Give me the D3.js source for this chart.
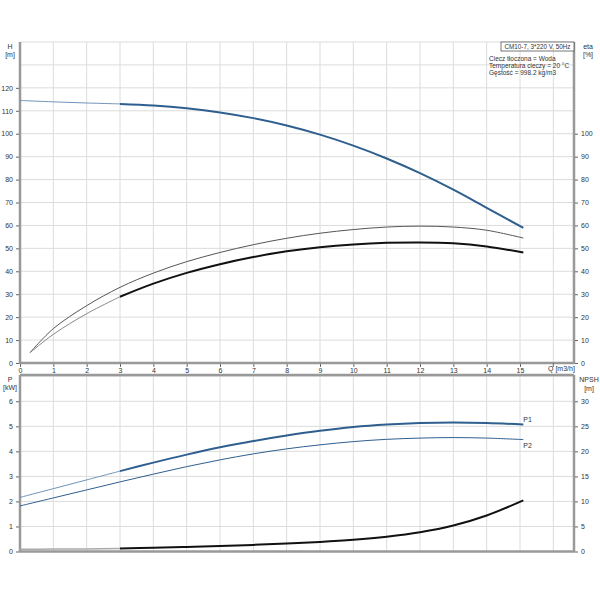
<!DOCTYPE html>
<html>
<head>
<meta charset="utf-8">
<script src="https://cdn.jsdelivr.net/npm/d3@7"></script>
<style>
  body { margin: 0; background: #fff; }
  text { font-family: "Liberation Sans", Arial, sans-serif; fill: #333; }
</style>
</head>
<body>
<div id="chart"></div>
<script>
// flow points, m3/h
const qPts = [0, 1, 2, 3, 4, 5, 6, 7, 8, 9, 10, 11, 12, 13, 14, 15.1];
const qEta = [0.3, 1, 2, 3, 4, 5, 6, 7, 8, 9, 10, 11, 12, 13, 14, 15.1];
// head, m
const headVals = [114.5, 113.9, 113.4, 113.0, 112.3, 111.1, 109.3, 106.8, 103.6, 99.6, 94.8, 89.2, 82.8, 75.6, 67.7, 58.9];
// efficiencies, %
const etaUpper = [4.5, 15, 25, 33, 39.2, 44.2, 48.2, 51.6, 54.4, 56.6, 58.2, 59.3, 59.7, 59.3, 57.9, 54.5];
const etaLower = [4.5, 12.5, 21.5, 28.9, 34.6, 39.3, 43.1, 46.2, 48.7, 50.5, 51.7, 52.4, 52.6, 52.2, 50.8, 48.2];
// power, kW
const p1Vals = [2.16, 2.51, 2.86, 3.21, 3.55, 3.87, 4.16, 4.41, 4.63, 4.82, 4.97, 5.07, 5.13, 5.15, 5.13, 5.07];
const p2Vals = [1.82, 2.14, 2.46, 2.78, 3.09, 3.39, 3.66, 3.90, 4.10, 4.26, 4.39, 4.48, 4.53, 4.55, 4.53, 4.47];
// NPSH, m
const npshVals = [0.45, 0.48, 0.52, 0.6, 0.75, 0.92, 1.1, 1.32, 1.58, 1.9, 2.33, 2.95, 3.85, 5.2, 7.2, 10.2];

const qTicks = d3.range(0, 16);
const hTicks = d3.range(0, 130, 10);
const etaTicks = d3.range(0, 110, 10);
const pTicks = d3.range(0, 7);
const npshTicks = d3.range(0, 35, 5);

const infoLines = ["Ciecz tłoczona = Woda", "Temperatura cieczy = 20 °C", "Gęstość = 998.2 kg/m3"];
const titleText = "CM10-7, 3*220 V, 50Hz";

const width = 600, height = 600;
const left = 20, right = 574;
const top1 = 42, bot1 = 363;
const top2 = 375, bot2 = 551.5;

const blue = "#2f5f8f";
const gridColor = "#dcdcdc";
const axisColor = "#999";

const svg = d3.select("#chart").append("svg")
    .attr("width", width)
    .attr("height", height);

const x = d3.scaleLinear().domain([0, 16.62]).range([left, right]);
const yH = d3.scaleLinear().domain([0, 140]).range([bot1, top1]);
const yP = d3.scaleLinear().domain([0, 7.05]).range([bot2, top2]);
const yN = d3.scaleLinear().domain([0, 35.25]).range([bot2, top2]);

// grids
function grid(yScale, yGrid, y0, y1) {
    const g = svg.append("g").attr("stroke", gridColor).attr("stroke-width", 1);
    g.selectAll(".v").data(d3.range(1, 17)).enter().append("line")
        .attr("x1", d => x(d)).attr("x2", d => x(d))
        .attr("y1", y0).attr("y2", y1);
    g.selectAll(".h").data(yGrid).enter().append("line")
        .attr("x1", left).attr("x2", right)
        .attr("y1", d => yScale(d)).attr("y2", d => yScale(d));
}
grid(yH, d3.range(10, 150, 10), top1, bot1);
grid(yP, d3.range(1, 8), top2, bot2);

// axes
function axisLine(x1, y1, x2, y2) {
    svg.append("line").attr("x1", x1).attr("y1", y1).attr("x2", x2).attr("y2", y2)
        .attr("stroke", axisColor).attr("stroke-width", 2.5);
}
axisLine(left, top1, left, bot1 + 1);
axisLine(right, top1, right, bot1 + 1);
axisLine(left, bot1, right, bot1);
axisLine(left, top2, left, bot2 + 1);
axisLine(right, top2, right, bot2 + 1);
axisLine(left, bot2, right, bot2);
axisLine(left, top2, right, top2);

function styleAxis(g) {
    g.select(".domain").remove();
    g.selectAll(".tick line").attr("stroke", "#666");
    g.selectAll(".tick text").attr("font-size", 7).attr("fill", "#444")
        .style("font-family", "'Liberation Sans', Arial, sans-serif");
}

svg.append("g").attr("transform", `translate(${left - 1},0)`)
    .call(d3.axisLeft(yH).tickValues(hTicks).tickFormat(d3.format("d")).tickSize(3).tickPadding(3))
    .call(styleAxis);
svg.append("g").attr("transform", `translate(${right + 1},0)`)
    .call(d3.axisRight(yH).tickValues(etaTicks).tickFormat(d3.format("d")).tickSize(3).tickPadding(3))
    .call(styleAxis);
svg.append("g").attr("transform", `translate(0,${bot1 + 1})`)
    .call(d3.axisBottom(x).tickValues(qTicks).tickFormat(d3.format("d")).tickSize(3).tickPadding(1))
    .call(styleAxis);
svg.append("g").attr("transform", `translate(${left - 1},0)`)
    .call(d3.axisLeft(yP).tickValues(pTicks).tickFormat(d3.format("d")).tickSize(3).tickPadding(3))
    .call(styleAxis);
svg.append("g").attr("transform", `translate(${right + 1},0)`)
    .call(d3.axisRight(yN).tickValues(npshTicks).tickFormat(d3.format("d")).tickSize(3).tickPadding(3))
    .call(styleAxis);
svg.append("line").attr("x1", x(16)).attr("x2", x(16)).attr("y1", bot1).attr("y2", bot1 + 4)
    .attr("stroke", "#666");

// unit labels
function label(txt, tx, ty, anchor, size) {
    svg.append("text").attr("x", tx).attr("y", ty).attr("font-size", size || 7)
        .attr("text-anchor", anchor || "middle").attr("fill", "#444").text(txt);
}
label("H", 10, 49);
label("[m]", 10, 57);
label("eta", 588, 49);
label("[%]", 588, 57);
label("Q [m3/h]", 548, 371, "start");
label("P", 10, 382);
label("[kW]", 10, 390);
label("NPSH", 589, 382);
label("[m]", 589, 391);

// info box
svg.append("rect").attr("x", 501).attr("y", 42).attr("width", 73).attr("height", 9)
    .attr("fill", "#fff").attr("stroke", "#555").attr("stroke-width", 0.8);
label(titleText, 537.5, 49, "middle", 6.3);
infoLines.forEach((t, i) => label(t, 489, 61 + i * 7, "start", 6.5));

// curves
function drawCurve(qs, vals, yScale, color, w, from, to) {
    const pts = qs.map((q, i) => [q, vals[i]]).filter(d => d[0] >= from && d[0] <= to);
    const line = d3.line().x(d => x(d[0])).y(d => yScale(d[1])).curve(d3.curveCatmullRom.alpha(0.5));
    svg.append("path").datum(pts).attr("d", line)
        .attr("fill", "none").attr("stroke", color).attr("stroke-width", w);
}

drawCurve(qPts, headVals, yH, "#6f93b8", 1, 0, 3);
drawCurve(qPts, headVals, yH, blue, 2, 3, 16);

drawCurve(qEta, etaUpper, yH, "#555", 1, 0, 16);
drawCurve(qEta, etaLower, yH, "#888", 1, 0, 3);
drawCurve(qEta, etaLower, yH, "#111", 2, 3, 16);

drawCurve(qPts, p1Vals, yP, "#6f93b8", 1, 0, 3);
drawCurve(qPts, p1Vals, yP, blue, 2, 3, 16);
drawCurve(qPts, p2Vals, yP, blue, 1, 0, 16);

drawCurve(qPts, npshVals, yN, "#aaa", 1.5, 0, 3);
drawCurve(qPts, npshVals, yN, "#111", 2, 3, 16);

svg.append("text").attr("x", x(15.1)).attr("y", yP(5.07) - 3).attr("font-size", 7)
    .attr("fill", blue).text("P1");
svg.append("text").attr("x", x(15.1)).attr("y", yP(4.47) + 8).attr("font-size", 7)
    .attr("fill", blue).text("P2");
</script>
</body>
</html>
